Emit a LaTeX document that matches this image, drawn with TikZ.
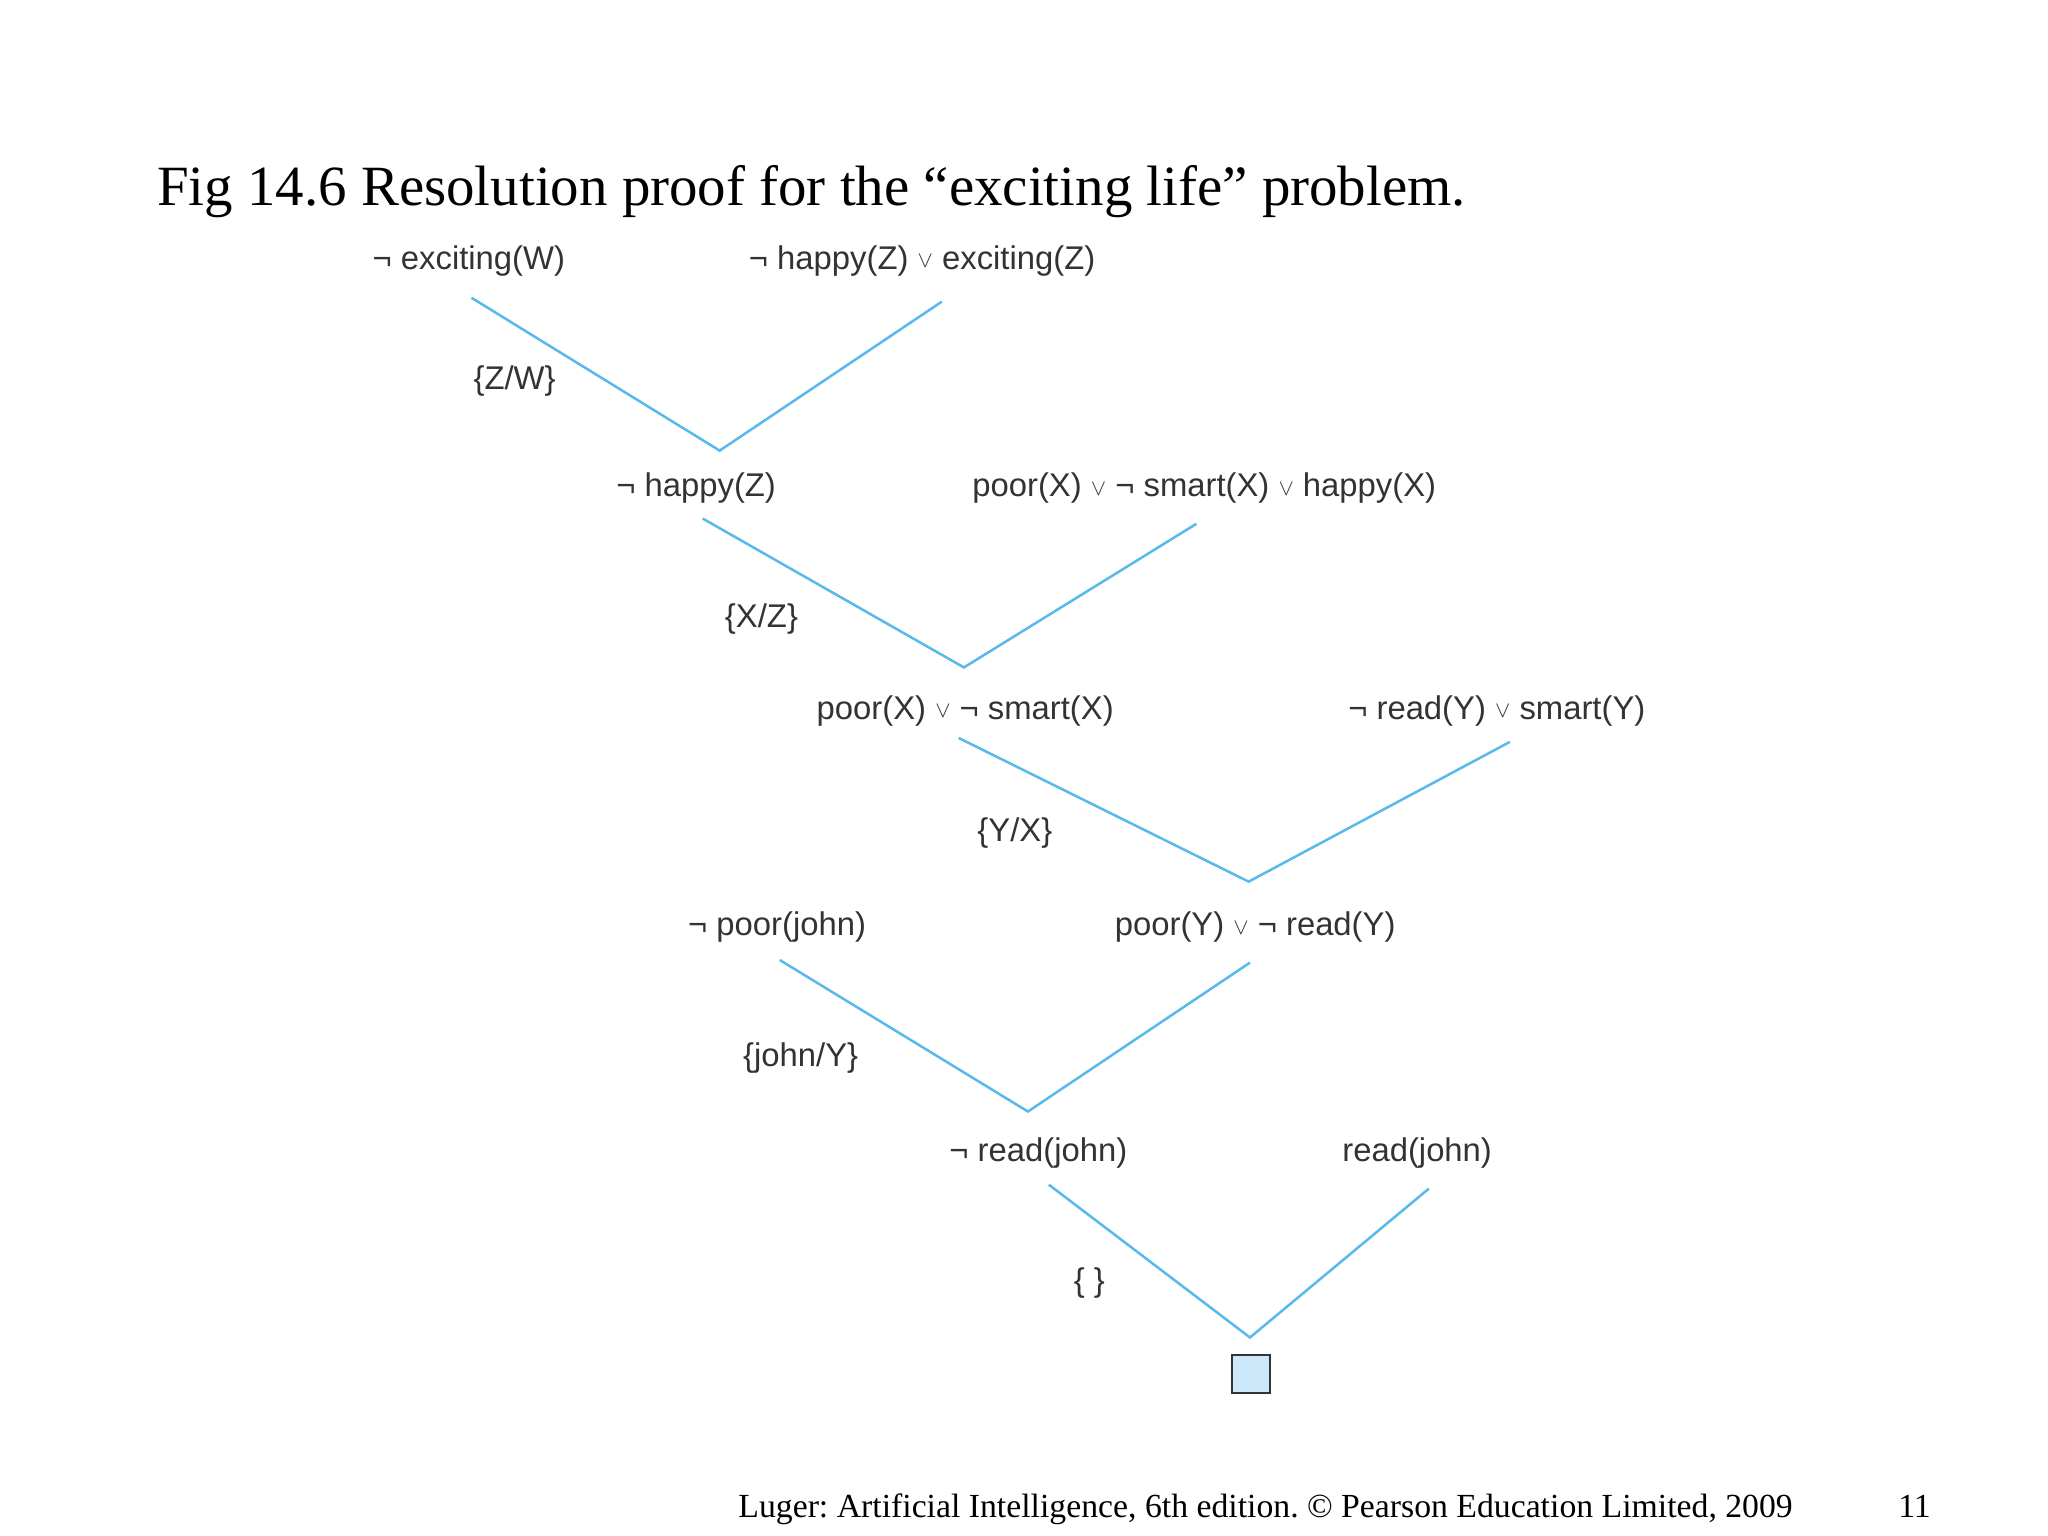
\documentclass[tikz,border=0pt]{standalone}
\usepackage{fontspec}
\setmainfont{Liberation Serif}
\newfontfamily\lab{Liberation Sans}
\newcommand{\orr}{\raisebox{0.1ex}{$\scriptstyle\vee$}}
\begin{document}
\begin{tikzpicture}[x=0.02cm,y=-0.02cm,
  clause/.style={font=\lab\fontsize{14.3}{17}\selectfont, text=black!80, inner sep=0pt},
  edge/.style={draw={rgb,255:red,90;green,185;blue,235}, line width=1.1pt}]
\useasboundingbox (0,0) rectangle (1568,1176);
\node[anchor=base west, font=\fontsize{24.8}{28}\selectfont\frenchspacing, inner sep=0pt] (title) at (120,157) {Fig 14.6 Resolution proof for the “exciting life” problem.};
\node[anchor=base west, font=\fontsize{14.7}{17}\selectfont\frenchspacing, inner sep=0pt] (foot) at (565,1162) {Luger: Artificial Intelligence, 6th edition. © Pearson Education Limited, 2009};
\node[anchor=base west, font=\fontsize{14.7}{17}\selectfont, inner sep=0pt] (pg) at (1453,1162) {11};

\node[clause] (a1) at (359,200) {¬ exciting(W)};
\node[clause] (a2) at (706,200) {¬ happy(Z) \orr{} exciting(Z)};
\node[clause] (b1) at (533,374) {¬ happy(Z)};
\node[clause] (b2) at (922,374) {poor(X) \orr{} ¬ smart(X) \orr{} happy(X)};
\node[clause] (c1) at (739,544) {poor(X) \orr{} ¬ smart(X)};
\node[clause] (c2) at (1146,544) {¬ read(Y) \orr{} smart(Y)};
\node[clause] (d1) at (595,710) {¬ poor(john)};
\node[clause] (d2) at (961,710) {poor(Y) \orr{} ¬ read(Y)};
\node[clause] (e1) at (795,883) {¬ read(john)};
\node[clause] (e2) at (1085,883) {read(john)};
\node[clause] (s1) at (394,292) {\{Z/W\}};
\node[clause] (s2) at (583,474) {\{X/Z\}};
\node[clause] (s3) at (777,638) {\{Y/X\}};
\node[clause] (s4) at (613,810) {\{john/Y\}};
\node[clause] (s5) at (834,982) {\{ \}};
\node[draw=black!80, fill={rgb,255:red,205;green,232;blue,250}, minimum size=0.58cm, inner sep=0pt, line width=0.8pt] (box) at (958,1052) {};

\coordinate (p1) at (361,228); \coordinate (q1) at (721,231); \coordinate (v1) at (551,345);
\coordinate (p2) at (538,397); \coordinate (q2) at (916,401); \coordinate (v2) at (738,511);
\coordinate (p3) at (734,565); \coordinate (q3) at (1156,568); \coordinate (v3) at (956,675);
\coordinate (p4) at (597,735); \coordinate (q4) at (957,737); \coordinate (v4) at (787,851);
\coordinate (p5) at (803,907); \coordinate (q5) at (1094,910); \coordinate (v5) at (957,1024);
\foreach \i in {1,...,5} { \draw[edge] (p\i) -- (v\i) -- (q\i); }
\end{tikzpicture}
\end{document}
